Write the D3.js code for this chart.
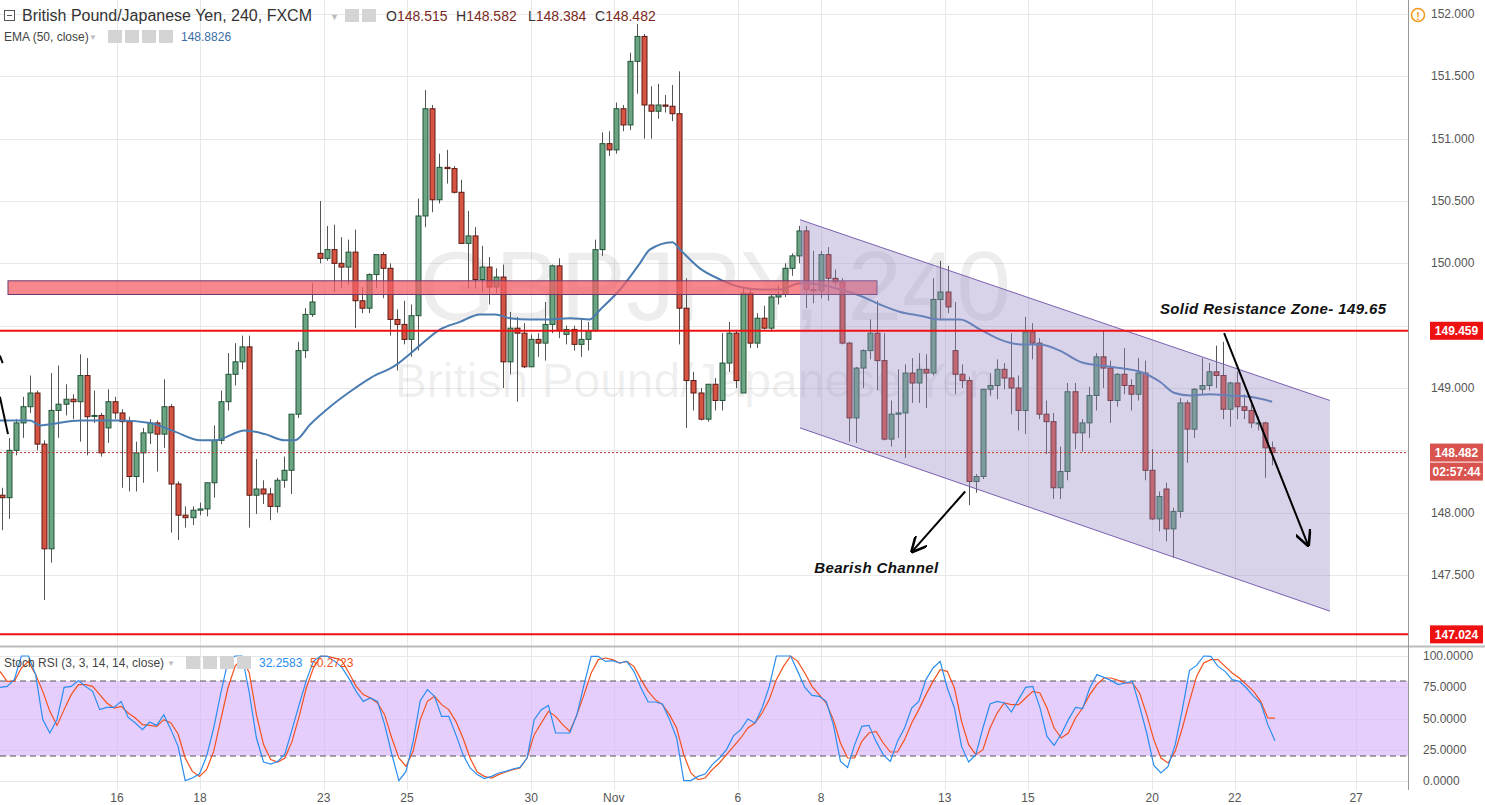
<!DOCTYPE html>
<html><head><meta charset="utf-8">
<script src="https://cdn.jsdelivr.net/npm/d3@7"></script>
<style>body{margin:0;background:#fff;}svg{display:block;font-family:"Liberation Sans",Arial,sans-serif;}</style>
</head><body><svg id="c" width="1485" height="805"></svg>
<script>
// ---------- DATA ----------
const candles = [
[148.14,148.2,147.86,148.12],[148.12,148.6,147.95,148.50],[148.50,148.75,148.46,148.72],[148.72,148.93,148.6,148.85],
[148.85,149.1,148.8,148.96],[148.96,148.98,148.5,148.55],[148.55,148.58,147.30,147.71],[147.71,149.12,147.6,148.82],
[148.82,149.18,148.6,148.87],[148.87,149.03,148.78,148.91],[148.91,148.95,148.75,148.89],[148.89,149.27,148.57,149.10],
[149.10,149.24,148.46,148.77],[148.78,148.98,148.72,148.78],[148.78,148.80,148.45,148.48],[148.68,148.99,148.56,148.89],
[148.89,148.93,148.75,148.80],[148.80,148.83,148.2,148.73],[148.73,148.77,148.17,148.29],[148.29,148.57,148.17,148.48],
[148.48,148.68,148.24,148.64],[148.64,148.75,148.55,148.72],[148.72,148.74,148.33,148.63],[148.63,149.07,148.52,148.85],
[148.85,148.87,147.84,148.23],[148.23,148.25,147.78,147.98],[147.98,148.05,147.88,147.96],[147.96,148.05,147.90,148.02],
[148.02,148.08,147.98,148.03],[148.03,148.24,147.97,148.24],[148.24,148.7,148.12,148.58],[148.58,148.98,148.55,148.89],
[148.89,149.28,148.82,149.11],[149.11,149.36,149.02,149.21],[149.21,149.42,149.15,149.33],[149.33,149.42,147.88,148.14],
[148.14,148.43,147.99,148.19],[148.19,148.26,148.07,148.15],[148.15,148.2,147.94,148.05],[148.05,148.28,148.0,148.26],
[148.26,148.45,148.2,148.34],[148.34,148.78,148.15,148.79],[148.79,149.37,148.76,149.30],[149.30,149.64,149.24,149.59],
[149.59,149.84,149.57,149.69],[150.08,150.50,150.0,150.04],[150.04,150.30,150.02,150.11],[150.11,150.31,149.77,150.0],
[150.0,150.21,149.8,149.97],[149.97,150.19,149.83,150.09],[150.09,150.27,149.48,149.70],[149.70,149.81,149.6,149.64],
[149.64,149.92,149.6,149.91],[149.91,150.07,149.8,150.07],[150.07,150.09,149.72,149.96],[149.96,150.0,149.42,149.55],
[149.55,149.63,149.14,149.51],[149.51,149.70,149.35,149.39],[149.39,149.67,149.25,149.58],[149.58,150.52,149.30,150.38],
[150.38,151.39,150.29,151.24],[151.24,151.27,150.41,150.51],[150.51,150.88,150.48,150.77],[150.77,150.91,150.64,150.76],
[150.76,150.78,150.56,150.57],[150.57,150.67,150.16,150.16],[150.16,150.42,149.8,150.22],[150.22,150.29,149.80,149.87],
[149.87,150.14,149.77,149.97],[149.97,150.05,149.67,149.81],[149.81,149.96,149.76,149.89],[149.89,149.99,149.0,149.21],
[149.21,149.61,149.11,149.48],[149.48,149.57,148.89,149.44],[149.44,149.52,149.16,149.17],[149.17,149.43,149.17,149.39],
[149.39,149.44,149.25,149.36],[149.36,149.69,149.22,149.51],[149.51,149.99,149.44,149.98],[149.98,150.04,149.4,149.46],
[149.43,149.50,149.35,149.47],[149.47,149.5,149.30,149.35],[149.35,149.55,149.25,149.39],[149.39,149.53,149.30,149.46],
[149.46,150.19,149.45,150.11],[150.11,151.05,150.06,150.96],[150.96,151.06,150.86,150.91],[150.91,151.29,150.88,151.24],
[151.24,151.27,151.06,151.11],[151.11,151.69,151.07,151.62],[151.62,151.92,151.36,151.82],[151.82,151.84,151.0,151.27],
[151.27,151.42,151.0,151.22],[151.22,151.44,151.16,151.27],[151.27,151.35,151.21,151.26],[151.26,151.43,151.14,151.20],
[151.20,151.54,149.35,149.64],[149.64,149.88,148.68,149.06],[149.06,149.13,148.82,148.96],[148.96,149.0,148.74,148.75],
[148.75,149.0,148.73,149.03],[149.03,149.08,148.82,148.90],[148.90,149.44,148.82,149.20],[149.20,149.53,149.13,149.44],
[149.44,149.46,149.0,149.06],[148.96,149.80,148.96,149.76],[149.76,149.80,149.32,149.36],[149.36,149.60,149.32,149.56],
[149.56,149.66,149.47,149.48],[149.48,149.75,149.45,149.73],[149.73,149.82,149.67,149.75],[149.75,150.0,149.73,149.96],
[149.96,150.08,149.9,150.06],[150.06,150.3,150.0,150.26],[150.26,150.3,149.64,149.79],[149.79,150.1,149.68,149.78],
[149.78,150.1,149.72,150.07],[150.07,150.13,149.7,149.88],[149.88,149.95,149.82,149.85],[149.85,149.88,149.35,149.36],
[149.36,149.37,148.57,148.76],[148.76,149.17,148.56,149.16],[149.16,149.31,149.0,149.30],[149.30,149.55,149.23,149.44],
[149.44,149.7,148.98,149.22],[149.22,149.44,148.58,148.59],[148.59,148.9,148.53,148.79],[148.79,149.15,148.6,148.80],
[148.80,149.19,148.44,149.12],[149.12,149.24,148.88,149.04],[149.04,149.28,148.88,149.15],[149.15,149.27,148.84,149.12],
[149.12,149.88,149.10,149.71],[149.71,150.02,149.55,149.77],[149.77,149.98,149.6,149.65],[149.3,149.69,148.95,149.11],
[149.11,149.19,149.0,149.06],[149.06,149.09,148.06,148.25],[148.25,148.31,148.16,148.29],[148.29,148.99,148.27,148.99],
[148.99,149.12,148.94,149.02],[149.02,149.23,148.91,149.15],[149.15,149.2,148.99,149.08],[149.08,149.44,148.79,149.0],
[149.0,149.1,148.66,148.82],[148.82,149.57,148.63,149.45],[149.45,149.52,149.23,149.36],[149.36,149.4,148.75,148.79],
[148.79,148.9,148.47,148.73],[148.73,148.8,148.11,148.20],[148.20,148.53,148.11,148.33],[148.33,149.04,148.26,148.97],
[148.97,149.04,148.51,148.64],[148.64,148.75,148.49,148.72],[148.72,149.01,148.6,148.94],[148.94,149.28,148.82,149.25],
[149.25,149.46,149.0,149.16],[149.16,149.22,148.72,148.90],[148.90,149.12,148.85,149.11],[149.11,149.32,148.95,149.02],
[149.02,149.07,148.82,148.95],[148.95,149.24,148.90,149.12],[149.12,149.22,148.26,148.34],[148.34,148.51,147.94,147.95],
[147.95,148.17,147.85,148.13],[148.19,148.24,147.77,147.87],[147.87,148.04,147.64,148.01],[148.01,148.92,147.96,148.88],
[148.88,148.9,148.4,148.67],[148.67,149.0,148.6,148.99],[148.99,149.24,148.95,149.02],[149.02,149.2,148.98,149.13],
[149.13,149.34,149.0,149.10],[149.10,149.37,148.75,148.83],[148.83,149.05,148.69,149.04],[149.04,149.13,148.75,148.85],
[148.85,148.95,148.75,148.82],[148.82,148.9,148.68,148.72],[148.72,148.77,148.66,148.72],[148.72,148.73,148.28,148.52],
[148.52,148.57,148.38,148.482]];
const emaIdx = [-0.3,4.0,5.4,6.8,11.1,13.9,16.7,21.0,24.5,28.1,30.2,34.4,37.3,40.1,41.5,43.7,46.5,49.3,52.2,55.7,59.2,62.1,64.9,67.7,69.9,72.0,74.8,77.7,80.5,83.3,84.8,87.6,90.4,91.8,95.0,96.1,98.9,101.8,104.6,107.4,110.3,113.1,115.9,118.8,121.6,124.4,127.3,130.1,132.9,135.8,138.6,141.4,144.3,147.1,149.9,152.8,155.6,158.4,161.3,164.1,166.2,168.4,171.2,174.0,176.9,180];
const emaVal = [148.74,148.74,148.70,148.71,148.74,148.74,148.74,148.72,148.65,148.58,148.58,148.66,148.63,148.58,148.58,148.71,148.85,148.97,149.08,149.18,149.34,149.47,149.53,149.59,149.59,149.56,149.55,149.55,149.56,149.55,149.63,149.79,150.0,150.11,150.17,150.11,149.96,149.87,149.81,149.79,149.79,149.84,149.83,149.79,149.74,149.67,149.61,149.58,149.55,149.55,149.47,149.39,149.35,149.35,149.30,149.21,149.18,149.16,149.13,149.05,148.96,148.94,148.95,148.94,148.93,148.89];
const stochK = [74.9,75.7,81.1,100,100,85.1,49.1,38.4,49.1,74.9,75.7,80.3,75.7,71.7,57.1,58.9,58.9,63.7,50.9,46.4,41.1,47.2,44.5,53.1,41.1,27.7,0.3,2.4,5.6,19.7,42.4,70.4,95.7,100,100,70.4,34.4,15.2,13.6,15.7,21.6,41.1,61.1,80.3,95.7,100,99.7,95.7,90.9,81.9,71.7,63.7,66.4,63.7,45.1,21.6,0.3,7.7,31.7,64.3,73.1,67.7,51.7,51.7,37.1,21.1,10.4,5.1,1.9,3.7,6.4,7.7,9.6,10.9,18.4,49.1,57.1,60.5,38.4,38.4,38.4,53.1,77.1,99.7,99.7,95.7,96.3,94.4,
95.7,87.7,74.4,63.2,63.2,61.6,49.1,34.4,0.3,0.3,3.7,5.6,13.1,18.4,25.1,36.3,41.1,49.6,46.4,58.4,75.7,100,100,100,87.7,74.9,68.5,67.7,63.7,45.1,15.7,10.9,29.1,43.7,44.5,31.7,21.1,15.7,31.7,42.4,58.4,63.7,81.1,90.4,95.7,74.4,58.4,27.7,15.2,21.1,42.4,61.6,63.7,62.4,55.2,65.1,74.9,75.7,58.9,35.7,28.5,37.6,49.1,58.9,57.9,74.4,85.1,82.9,80.3,77.1,78.4,79.7,59.7,38.4,12.5,6.4,11.7,29.1,57.1,88.3,92.5,100,99.7,91.7,87.7,81.1,79.7,74.4,67.7,62.4,45.1,32.26];
const stochD = [87.7,79.7,79.7,90.4,95.7,85.1,71.7,55.7,44.5,57.1,69.1,77.1,77.1,75.7,69.1,62.4,58.4,59.7,54.4,50.4,45.1,44.5,43.7,49.1,46.4,37.6,18.4,7.7,3.7,9.1,23.7,49.1,74.4,91.7,98.4,86.4,53.1,29.1,17.1,15.2,18.4,31.7,51.7,74.4,90.4,99.7,99.7,98.4,96.3,86.4,75.7,69.1,66.4,62.4,53.1,34.4,18.4,11.7,23.7,49.1,63.7,67.7,61.1,57.1,47.7,34.4,18.4,7.2,3.7,2.4,5.1,7.2,9.1,10.4,18.4,37.1,46.4,55.7,51.7,45.1,39.7,53.1,69.1,86.4,97.1,98.4,97.1,94.4,
95.7,91.7,81.1,71.7,65.1,61.1,53.1,42.4,21.1,6.4,1.1,2.4,9.1,14.4,21.1,27.7,34.4,42.4,46.4,54.4,65.1,81.1,91.7,100,95.7,86.4,75.7,69.1,62.4,49.1,30.4,18.4,18.4,31.7,38.4,39.7,30.4,23.2,23.2,33.1,46.4,57.1,69.1,79.7,89.1,87.7,74.4,47.7,29.1,21.1,25.1,42.4,54.4,62.4,61.1,61.1,66.4,71.7,70.4,58.4,42.4,34.4,38.4,50.4,58.4,69.1,77.1,82.4,82.4,80.5,78.4,78.4,70.4,53.1,33.1,18.4,14.4,23.7,42.4,63.7,83.7,94.4,97.1,97.1,91.7,86.4,82.4,77.1,71.7,63.7,50.4,50.27];
const priceTicks = [152.0,151.5,151.0,150.5,150.0,149.5,149.0,148.5,148.0,147.5];
const stochTicks = [100,75,50,25,0];
const dateLabels = ["16","18","23","25","30","Nov","6","8","13","15","20","22","27"];
const dateIdx = [16.3,28.06,45.6,57.4,75.0,86.7,104.3,116.1,133.6,145.4,163.0,174.7,191.9];
const resistanceLines = [149.459,147.024];
const lastPrice = 148.482;
const zone = {i0:0.85,i1:124.0,p0:149.86,p1:149.75};
const channel = {i0:113.1,i1:188.2,top0:150.35,top1:148.90,bot0:148.68,bot1:147.21};

// ---------- SCALES ----------
const svg = d3.select("#c");
const W = 1408;
const x = d3.scaleLinear().domain([-0.283, 199.26]).range([0, W]);
const y = d3.scaleLinear().domain([152, 147]).range([14, 637.35]);
const ys = d3.scaleLinear().domain([0, 100]).range([781, 656]);
const font = '"Liberation Sans",Arial,sans-serif';

svg.append("rect").attr("width",1485).attr("height",805).attr("fill","#fff");
svg.append("clipPath").attr("id","mc").append("rect").attr("x",0).attr("y",0).attr("width",W).attr("height",645);
svg.append("clipPath").attr("id","sc").append("rect").attr("x",0).attr("y",648).attr("width",W).attr("height",157);

// grid
const grid = svg.append("g").attr("stroke","#e8e8e8").attr("stroke-width",1);
dateIdx.forEach(d=>grid.append("line").attr("x1",Math.round(x(d))+.5).attr("x2",Math.round(x(d))+.5).attr("y1",0).attr("y2",790));
priceTicks.forEach(p=>grid.append("line").attr("x1",0).attr("x2",W).attr("y1",Math.round(y(p))+.5).attr("y2",Math.round(y(p))+.5));
stochTicks.forEach(p=>grid.append("line").attr("x1",0).attr("x2",W).attr("y1",Math.round(ys(p))+.5).attr("y2",Math.round(ys(p))+.5));

// watermark
const main = svg.append("g").attr("clip-path","url(#mc)");
main.append("text").attr("x",715).attr("y",320).attr("text-anchor","middle").attr("font-size",98).attr("font-family",font).attr("fill","#000").attr("fill-opacity",0.07).text("GBPJPY, 240");
main.append("text").attr("x",695).attr("y",397).attr("text-anchor","middle").attr("font-size",48).attr("font-family",font).attr("fill","#000").attr("fill-opacity",0.07).text("British Pound/Japanese Yen");

// candles
const bw = 5;
const cg = main.append("g");
candles.forEach((c,i)=>{
  const [o,h,l,cl]=c; const up = cl>=o;
  const cx = Math.round(x(i))+.5;
  const border = up?"#225437":"#5b1a13";
  cg.append("line").attr("x1",cx).attr("x2",cx).attr("y1",y(h)).attr("y2",y(l)).attr("stroke","#555").attr("stroke-width",1);
  const top=y(Math.max(o,cl)), bot=y(Math.min(o,cl));
  cg.append("rect").attr("x",cx-bw/2).attr("y",top).attr("width",bw).attr("height",Math.max(1,bot-top))
    .attr("fill",up?"#6ba583":"#d75442").attr("stroke",border).attr("stroke-width",1);
});

// EMA
main.append("path").datum(emaIdx.map((d,i)=>[d,emaVal[i]]))
  .attr("d",d3.line().curve(d3.curveMonotoneX).x(d=>x(d[0])).y(d=>y(d[1])))
  .attr("fill","none").attr("stroke","#4a7cb1").attr("stroke-width",2);

// zone
main.append("rect").attr("x",x(zone.i0)).attr("y",y(zone.p0)).attr("width",x(zone.i1)-x(zone.i0)).attr("height",y(zone.p1)-y(zone.p0))
  .attr("fill","#f45f66").attr("fill-opacity",0.75).attr("stroke","#6b3a6b").attr("stroke-width",1);

// channel
const chPts=[[channel.i0,channel.top0],[channel.i1,channel.top1],[channel.i1,channel.bot1],[channel.i0,channel.bot0]];
main.append("path").attr("d","M"+chPts.map(p=>[x(p[0]),y(p[1])].join(",")).join("L")+"Z")
  .attr("fill","#9b8cc8").attr("fill-opacity",0.38).attr("stroke","none");
main.append("line").attr("x1",x(channel.i0)).attr("y1",y(channel.top0)).attr("x2",x(channel.i1)).attr("y2",y(channel.top1)).attr("stroke","#7b5fb0").attr("stroke-width",1);
main.append("line").attr("x1",x(channel.i0)).attr("y1",y(channel.bot0)).attr("x2",x(channel.i1)).attr("y2",y(channel.bot1)).attr("stroke","#7b5fb0").attr("stroke-width",1);

// horizontal lines
resistanceLines.forEach(p=>main.append("line").attr("x1",0).attr("x2",W).attr("y1",y(p)).attr("y2",y(p)).attr("stroke","#ee1111").attr("stroke-width",2));
main.append("line").attr("x1",0).attr("x2",W).attr("y1",y(lastPrice)).attr("y2",y(lastPrice)).attr("stroke","#c0392b").attr("stroke-width",1).attr("stroke-dasharray","2,2");

// arrows
const defs = svg.append("defs");
defs.append("marker").attr("id","ah").attr("viewBox","0 0 10 10").attr("refX",9).attr("refY",5).attr("markerWidth",8).attr("markerHeight",8).attr("orient","auto")
  .append("path").attr("d","M0,0L10,5L0,10").attr("fill","none").attr("stroke","#000").attr("stroke-width",1.6);
function arrow(i0,p0,i1,p1){main.append("line").attr("x1",x(i0)).attr("y1",y(p0)).attr("x2",x(i1)).attr("y2",y(p1)).attr("stroke","#000").attr("stroke-width",2).attr("marker-end","url(#ah)");}
arrow(173.2,149.44,185.1,147.74);
arrow(136.5,148.17,129.0,147.69);
main.append("line").attr("x1",x(-0.3)).attr("y1",y(148.93)).attr("x2",x(0.85)).attr("y2",y(148.63)).attr("stroke","#000").attr("stroke-width",2);
main.append("line").attr("x1",x(-0.3)).attr("y1",y(149.26)).attr("x2",x(0.1)).attr("y2",y(149.2)).attr("stroke","#000").attr("stroke-width",2);

// annotation texts
main.append("text").attr("x",x(164.1)).attr("y",y(149.59)).attr("font-size",15).attr("font-weight","bold").attr("font-style","italic").attr("font-family",font).attr("fill","#111").attr("letter-spacing",0.4).text("Solid Resistance Zone- 149.65");
main.append("text").attr("x",x(115.1)).attr("y",y(147.52)).attr("font-size",15).attr("font-weight","bold").attr("font-style","italic").attr("font-family",font).attr("fill","#111").attr("letter-spacing",0.4).text("Bearish Channel");

// stoch panel
const st = svg.append("g").attr("clip-path","url(#sc)");
st.append("rect").attr("x",0).attr("width",W).attr("y",ys(80)).attr("height",ys(20)-ys(80)).attr("fill","#d9b3fb").attr("fill-opacity",0.65);
[80,20].forEach(v=>st.append("line").attr("x1",0).attr("x2",W).attr("y1",ys(v)).attr("y2",ys(v)).attr("stroke","#555").attr("stroke-dasharray","6,4"));
const si = d3.scaleLinear().domain([0,stochK.length-1]).range([-0.28,180.4]);
const si2 = d3.scaleLinear().domain([0,stochD.length-1]).range([-0.28,180.4]);
st.append("path").datum(stochD).attr("d",d3.line().x((d,i)=>x(si2(i))).y(d=>ys(d))).attr("fill","none").attr("stroke","#f4511e").attr("stroke-width",1.2);
st.append("path").datum(stochK).attr("d",d3.line().x((d,i)=>x(si(i))).y(d=>ys(d))).attr("fill","none").attr("stroke","#2a8ef0").attr("stroke-width",1.2);

// panel separators & axis borders
svg.append("line").attr("x1",0).attr("x2",1485).attr("y1",646.5).attr("y2",646.5).attr("stroke","#bbb").attr("stroke-width",2);
svg.append("line").attr("x1",W+0.5).attr("x2",W+0.5).attr("y1",0).attr("y2",790).attr("stroke","#999");

// right axes
const tagPrices=[resistanceLines[0],resistanceLines[1],lastPrice];
const ax = svg.append("g").attr("font-family",font).attr("font-size",12).attr("fill","#555");
priceTicks.filter(p=>tagPrices.every(t=>Math.abs(y(t)-y(p))>14)).forEach(p=>ax.append("text").attr("x",1431).attr("y",y(p)+4).text(d3.format(".3f")(p)));
stochTicks.forEach(p=>ax.append("text").attr("x",1423).attr("y",ys(p)+4).text(d3.format(".4f")(p)));
function tag(p,txt,fill,dy){const yy=y(p)+(dy||0);
  svg.append("rect").attr("x",1430).attr("y",yy-9).attr("width",53).attr("height",18).attr("fill",fill);
  svg.append("text").attr("x",1456.5).attr("y",yy+4.5).attr("text-anchor","middle").attr("font-family",font).attr("font-size",12).attr("font-weight","bold").attr("fill","#fff").text(txt);}
tag(resistanceLines[0],"149.459","#ee1111");
tag(resistanceLines[1],"147.024","#ee1111");
tag(lastPrice,"148.482","#d9534f");
tag(lastPrice,"02:57:44","#d9534f",19);
svg.append("circle").attr("cx",1418).attr("cy",15).attr("r",6.5).attr("fill","none").attr("stroke","#f59a23").attr("stroke-width",1.5);
svg.append("text").attr("x",1418).attr("y",19.5).attr("text-anchor","middle").attr("font-size",11).attr("font-weight","bold").attr("fill","#f59a23").attr("font-family",font).text("!");

// date axis
dateLabels.forEach((d,i)=>svg.append("text").attr("x",x(dateIdx[i])).attr("y",802).attr("text-anchor","middle").attr("font-family",font).attr("font-size",12).attr("fill","#555").text(d));

// header
const hd = svg.append("g").attr("font-family",font);
hd.append("rect").attr("x",4.5).attr("y",10.5).attr("width",10).attr("height",10).attr("fill","#fff").attr("stroke","#555");
hd.append("line").attr("x1",7).attr("x2",12).attr("y1",15.5).attr("y2",15.5).attr("stroke","#555");
hd.append("text").attr("x",22).attr("y",21).attr("font-size",16).attr("fill","#333").text("British Pound/Japanese Yen, 240, FXCM");
function icons(x0,yy,n){for(let k=0;k<n;k++)hd.append("rect").attr("x",x0+k*17).attr("y",yy).attr("width",14).attr("height",13).attr("fill","#d4d4d4");}
hd.append("text").attr("x",330).attr("y",20).attr("font-size",9).attr("fill","#bbb").text("▼");
icons(345,9,2);
const ohlc=[["O","148.515",386],["H","148.582",456],["L","148.384",528],["C","148.482",595]];
ohlc.forEach(o=>{const t=hd.append("text").attr("x",o[2]).attr("y",21).attr("font-size",14);t.append("tspan").attr("fill","#333").text(o[0]);t.append("tspan").attr("fill","#7a2a1e").text(o[1]);});
hd.append("text").attr("x",4).attr("y",41).attr("font-size",12).attr("fill","#444").text("EMA (50, close)");
hd.append("text").attr("x",89).attr("y",40).attr("font-size",8).attr("fill","#bbb").text("▼");
icons(108,30,4);
hd.append("text").attr("x",181).attr("y",41).attr("font-size",12).attr("fill","#3a6ea5").text("148.8826");
hd.append("text").attr("x",4).attr("y",667).attr("font-size",12).attr("fill","#444").text("Stoch RSI (3, 3, 14, 14, close)");
hd.append("text").attr("x",167).attr("y",666).attr("font-size",8).attr("fill","#bbb").text("▼");
icons(186,656,4);
hd.append("text").attr("x",259).attr("y",667).attr("font-size",12).attr("fill","#2a8ef0").text("32.2583");
hd.append("text").attr("x",310).attr("y",667).attr("font-size",12).attr("fill","#f4511e").text("50.2723");
</script></body></html>
